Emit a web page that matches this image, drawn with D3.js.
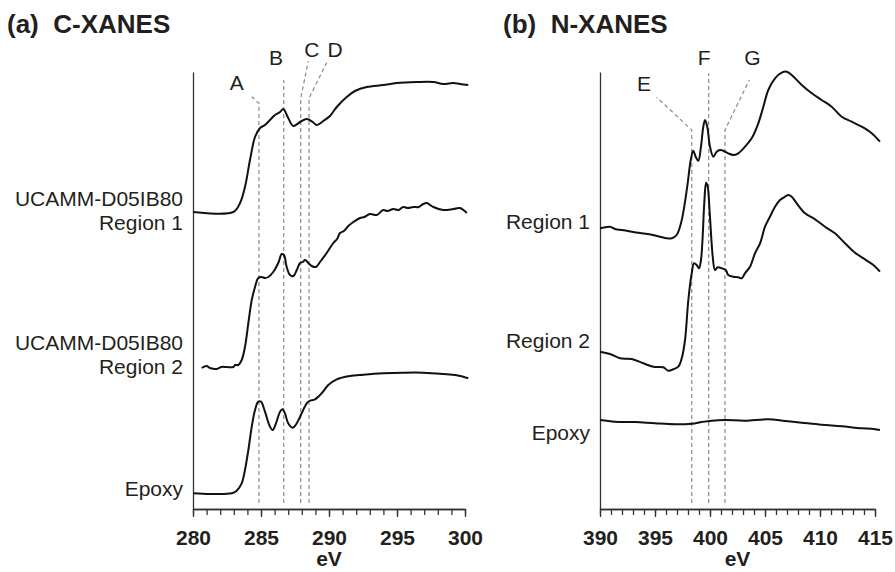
<!DOCTYPE html>
<html>
<head>
<meta charset="utf-8">
<script src="https://cdn.jsdelivr.net/npm/d3@7"></script>
<style>
  body { margin: 0; background: #fff; }
  svg { display: block; font-family: "Liberation Sans", Arial, Helvetica, sans-serif; }
  .axis path, .axis line { stroke: #333; stroke-width: 1.3; }
  .axis text { font-size: 21px; font-weight: bold; fill: #231f20; }
  .spectrum { fill: none; stroke: #111; stroke-width: 2; stroke-linejoin: round; }
  .marker { fill: none; stroke: #8a8a8a; stroke-width: 1.2; stroke-dasharray: 4,3; }
  .label { font-size: 21px; fill: #231f20; }
  .title { font-size: 26px; font-weight: bold; fill: #231f20; white-space: pre; }
</style>
</head>
<body>
<div id="chart"></div>
<script>
// C-XANES spectra, [eV, stacked intensity (a.u.)]
const cRegion1 = [
  [280.0, 2.97], [282.96, 2.97], [283.46, 3.06], [283.82, 3.22], [284.19, 3.49], [284.56, 3.72],
  [284.93, 3.81], [285.29, 3.84], [285.66, 3.89], [286.03, 3.94], [286.4, 3.97], [286.64, 4.00],
  [287.0, 3.91], [287.37, 3.83], [287.87, 3.87], [288.36, 3.90], [288.8, 3.87], [289.1, 3.84],
  [289.58, 3.88], [290.07, 3.93], [290.57, 4.02], [291.3, 4.12], [291.91, 4.18], [292.77, 4.22],
  [293.99, 4.24], [294.98, 4.26], [296.45, 4.27], [297.67, 4.27], [298.4, 4.25], [299.14, 4.26],
  [299.63, 4.25], [300.24, 4.24]
];
const cRegion2 = [
  [280.64, 1.41], [281.0, 1.43], [281.25, 1.41], [281.74, 1.40], [282.1, 1.42], [282.48, 1.42],
  [282.96, 1.42], [283.1, 1.44], [283.33, 1.44], [283.58, 1.49], [283.82, 1.62], [284.07, 1.86],
  [284.32, 2.09], [284.56, 2.22], [284.8, 2.31], [285.05, 2.32], [285.29, 2.31], [285.54, 2.32],
  [285.9, 2.37], [286.27, 2.46], [286.52, 2.55], [286.69, 2.54], [286.89, 2.42], [287.13, 2.34],
  [287.38, 2.33], [287.63, 2.39], [287.87, 2.46], [288.07, 2.47], [288.24, 2.49], [288.48, 2.46],
  [288.73, 2.43], [289.04, 2.42], [289.34, 2.47], [289.83, 2.56], [290.32, 2.66], [290.6, 2.70],
  [290.81, 2.76], [291.1, 2.78], [291.42, 2.83], [291.79, 2.87], [292.28, 2.91], [292.6, 2.92],
  [293.01, 2.95], [293.51, 2.94], [293.99, 2.99], [294.3, 2.98], [294.73, 3.00], [295.1, 2.99],
  [295.46, 3.02], [295.8, 3.01], [296.2, 3.02], [296.6, 3.02], [296.93, 3.05], [297.18, 3.06],
  [297.67, 3.02], [298.4, 2.99], [299.14, 3.00], [299.63, 3.01], [300.13, 2.96]
];
const cEpoxy = [
  [280.02, 0.157], [281.25, 0.15], [282.85, 0.157], [283.21, 0.183], [283.58, 0.257], [283.82, 0.39],
  [284.07, 0.59], [284.32, 0.823], [284.56, 0.99], [284.8, 1.073], [285.0, 1.073], [285.29, 0.973],
  [285.66, 0.823], [285.86, 0.79], [286.1, 0.857], [286.4, 0.973], [286.57, 0.997], [286.76, 0.957],
  [287.0, 0.857], [287.33, 0.813], [287.63, 0.857], [287.99, 0.957], [288.36, 1.057], [288.55, 1.08],
  [288.97, 1.097], [289.46, 1.157], [289.95, 1.24], [290.57, 1.297], [291.54, 1.33], [292.52, 1.343],
  [293.99, 1.357], [295.46, 1.363], [296.93, 1.363], [298.4, 1.35], [299.39, 1.337], [300.24, 1.307]
];

// N-XANES spectra
const nRegion1 = [
  [390.0, 2.807], [390.91, 2.823], [391.36, 2.80], [391.97, 2.79], [392.43, 2.783], [392.88, 2.773],
  [393.79, 2.757], [394.7, 2.743], [395.45, 2.723], [396.06, 2.707], [396.52, 2.707], [396.97, 2.74],
  [397.36, 2.857], [397.66, 3.023], [397.97, 3.257], [398.25, 3.49], [398.48, 3.583], [398.7, 3.523],
  [398.94, 3.483], [399.18, 3.623], [399.39, 3.823], [399.55, 3.89], [399.75, 3.823], [400.0, 3.623],
  [400.3, 3.523], [400.61, 3.573], [400.91, 3.59], [401.21, 3.583], [401.66, 3.557], [402.12, 3.54],
  [402.57, 3.557], [403.18, 3.623], [403.79, 3.707], [404.39, 3.857], [404.85, 4.023], [405.3, 4.19],
  [405.91, 4.307], [406.52, 4.363], [406.97, 4.373], [407.43, 4.34], [408.34, 4.24], [409.25, 4.157],
  [410.15, 4.09], [411.06, 4.023], [411.97, 3.923], [412.88, 3.873], [413.79, 3.823], [414.7, 3.757],
  [415.45, 3.673]
];
const nRegion2 = [
  [390.0, 1.573], [390.91, 1.55], [391.82, 1.507], [392.88, 1.50], [393.94, 1.457], [394.85, 1.423],
  [395.75, 1.417], [396.21, 1.383], [396.66, 1.397], [397.12, 1.423], [397.43, 1.507], [397.73, 1.69],
  [398.03, 2.09], [398.34, 2.357], [398.55, 2.457], [398.79, 2.44], [399.0, 2.407], [399.18, 2.49],
  [399.3, 2.657], [399.48, 3.057], [399.64, 3.263], [399.79, 3.223], [399.94, 3.023], [400.09, 2.757],
  [400.25, 2.523], [400.45, 2.39], [400.7, 2.417], [401.06, 2.407], [401.43, 2.39], [401.66, 2.34],
  [402.12, 2.323], [402.57, 2.317], [402.88, 2.307], [403.18, 2.357], [403.64, 2.423], [404.09, 2.557],
  [404.55, 2.657], [405.0, 2.823], [405.45, 2.923], [405.91, 3.023], [406.36, 3.09], [406.82, 3.123],
  [407.12, 3.14], [407.43, 3.123], [407.88, 3.057], [408.64, 2.957], [409.55, 2.897], [410.45, 2.823],
  [411.36, 2.757], [412.27, 2.657], [413.18, 2.563], [414.09, 2.497], [414.85, 2.44], [415.45, 2.373]
];
const nEpoxy = [
  [390.0, 0.89], [391.36, 0.873], [393.18, 0.87], [395.0, 0.857], [396.82, 0.847], [398.34, 0.853],
  [399.25, 0.87], [400.15, 0.883], [401.36, 0.89], [403.18, 0.883], [405.3, 0.897], [406.82, 0.88],
  [408.34, 0.863], [410.15, 0.843], [411.97, 0.827], [413.79, 0.807], [414.7, 0.803], [415.45, 0.79]
];

// peak markers: energy, top of dashed line, optional leader end, letter position
const cPeaks = [
  { name: "A", ev: 284.85, top: 4.057, lead: [284.32, 4.123], tx: 283.21, ty: 4.19 },
  { name: "B", ev: 286.67, top: 4.29, lead: null, tx: 286.1, ty: 4.44 },
  { name: "C", ev: 287.92, top: 4.107, lead: [288.48, 4.48], tx: 288.73, ty: 4.523 },
  { name: "D", ev: 288.53, top: 4.107, lead: [289.83, 4.463], tx: 290.44, ty: 4.523 }
];
const nPeaks = [
  { name: "E", ev: 398.34, top: 3.79, lead: [395.15, 4.117], tx: 394.0, ty: 4.185 },
  { name: "F", ev: 399.88, top: 4.357, lead: null, tx: 399.48, ty: 4.44 },
  { name: "G", ev: 401.36, top: 3.79, lead: [403.57, 4.29], tx: 403.86, ty: 4.44 }
];

// sample labels: text lines and baseline of first line (a.u.)
const cLabels = [
  { lines: ["UCAMM-D05IB80", "Region 1"], y: 3.03 },
  { lines: ["UCAMM-D05IB80", "Region 2"], y: 1.59 },
  { lines: ["Epoxy"], y: 0.13 }
];
const nLabels = [
  { lines: ["Region 1"], y: 2.797 },
  { lines: ["Region 2"], y: 1.607 },
  { lines: ["Epoxy"], y: 0.69 }
];

const cTicks = [280, 285, 290, 295, 300];
const nTicks = [390, 395, 400, 405, 410, 415];

const svgWidth = 895, svgHeight = 572,
    axisY = 509, axisTop = 72, markerBottom = 0.06;

const svg = d3.select("#chart").append("svg")
    .attr("width", svgWidth)
    .attr("height", svgHeight);

const yScale = d3.scaleLinear()
    .domain([0, 4.37])
    .range([axisY, axisTop]);

function drawPanel(opts) {
    let x = d3.scaleLinear().domain(opts.domain).range(opts.range);
    let g = svg.append("g");

    // minor ticks every 1 eV
    g.append("g")
        .attr("class", "axis")
        .attr("transform", `translate(0, ${axisY})`)
        .call(d3.axisBottom(x).tickValues(d3.range(opts.domain[0], opts.domain[1] + 1, 1))
            .tickSize(6).tickSizeOuter(0).tickFormat(""));
    // major ticks with labels
    g.append("g")
        .attr("class", "axis")
        .attr("transform", `translate(0, ${axisY})`)
        .call(d3.axisBottom(x).tickValues(opts.ticks).tickSize(8).tickSizeOuter(0).tickPadding(13));

    g.append("text")
        .attr("x", (opts.range[0] + opts.range[1]) / 2)
        .attr("y", 566)
        .attr("text-anchor", "middle")
        .style("font-size", "21px")
        .style("font-weight", "bold")
        .style("fill", "#231f20")
        .text("eV");

    // y axis, bare line
    g.append("g")
        .attr("class", "axis")
        .attr("transform", `translate(${opts.range[0]}, 0)`)
        .call(d3.axisLeft(yScale).tickValues([]).tickSizeOuter(0));

    // dashed peak markers
    opts.peaks.forEach((p) => {
        let pts = [[p.ev, markerBottom], [p.ev, p.top]];
        if (p.lead) pts.push(p.lead);
        g.append("path")
            .attr("class", "marker")
            .attr("d", d3.line().x((d) => x(d[0])).y((d) => yScale(d[1]))(pts));
        g.append("text")
            .attr("class", "label")
            .attr("x", x(p.tx))
            .attr("y", yScale(p.ty))
            .attr("text-anchor", "middle")
            .text(p.name);
    });

    let line = d3.line()
        .x((d) => x(d[0]))
        .y((d) => yScale(d[1]))
        .curve(d3.curveCatmullRom.alpha(0.5));

    g.selectAll("path.spectrum")
        .data(opts.series)
        .join("path")
        .attr("class", "spectrum")
        .attr("d", line);

    opts.labels.forEach((l) => {
        let t = g.append("text")
            .attr("class", "label")
            .attr("text-anchor", "end")
            .attr("y", yScale(l.y));
        l.lines.forEach((s, i) => {
            t.append("tspan")
                .attr("x", opts.range[0] - 10)
                .attr("dy", i === 0 ? 0 : 24)
                .text(s);
        });
    });

    svg.append("text")
        .attr("class", "title")
        .attr("x", opts.titleX)
        .attr("y", 33)
        .text(opts.title);
}

drawPanel({
    domain: [280, 300], range: [193, 465], ticks: cTicks,
    series: [cRegion1, cRegion2, cEpoxy], peaks: cPeaks, labels: cLabels,
    title: "(a)  C-XANES", titleX: 7
});
drawPanel({
    domain: [390, 415], range: [600, 875], ticks: nTicks,
    series: [nRegion1, nRegion2, nEpoxy], peaks: nPeaks, labels: nLabels,
    title: "(b)  N-XANES", titleX: 503
});
</script>
</body>
</html>
